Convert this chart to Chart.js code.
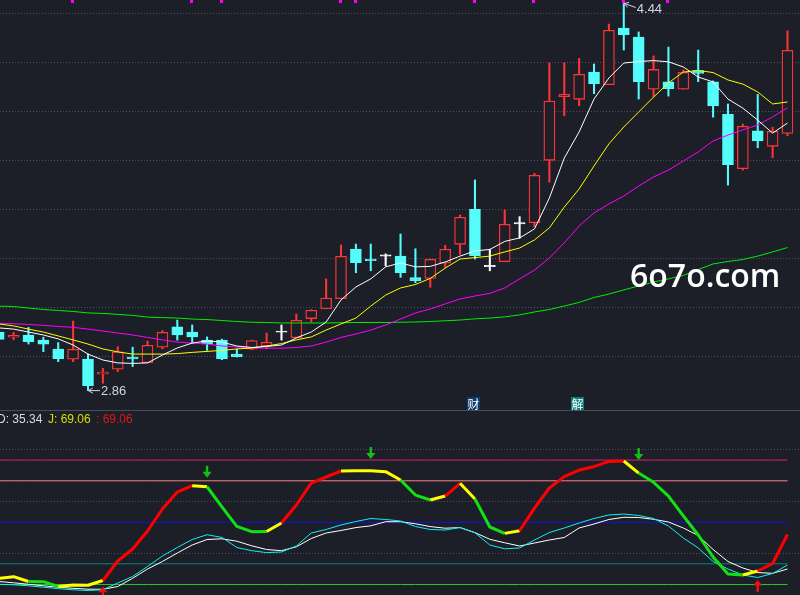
<!DOCTYPE html>
<html><head><meta charset="utf-8">
<script src="https://cdn.jsdelivr.net/npm/chart.js@4.4.1/dist/chart.umd.min.js"></script>
<style>
html,body{margin:0;padding:0;background:#1c1f28;overflow:hidden}
#wrap{position:relative;width:800px;height:595px;background:#1c1f28;overflow:hidden}
#top{position:absolute;left:0;top:0}
#bot{position:absolute;left:0;top:411px}
.sep{position:absolute;left:0;top:410px;width:800px;height:1px;background:#474c58}
.hdr{position:absolute;top:412px;font:12px "Liberation Sans",Arial,sans-serif;line-height:14px;white-space:pre}
.wm{position:absolute;left:630px;top:259px;font:600 32px "Open Sans",sans-serif;line-height:32px;color:#fff}
.badge{position:absolute;top:397px;width:13px;height:13px;font:12px "Noto Sans CJK SC",sans-serif;line-height:13px;color:#fff;text-align:center}
</style></head><body>
<div id="wrap">
<canvas id="top" width="800" height="410"></canvas>
<div class="sep"></div>
<canvas id="bot" width="800" height="184"></canvas>
<div class="wm">6o7o.com</div>
<div class="badge" style="left:467px;background:#0b3a6c">财</div>
<div class="badge" style="left:571px;background:#0e7c7c">解</div>
<div class="hdr" style="left:-3px;color:#d2dcea">D: 35.34</div>
<div class="hdr" style="left:48px;color:#dede00">J: 69.06</div>
<div class="hdr" style="left:96px;color:#e81414">: 69.06</div>
</div>
<script>
// ---- data ----
const open  = [3.099,3.078,3.087,3.066,3.029,2.988,2.989,2.927,2.947,2.997, 2.974,3.037,3.120,3.099,3.066,3.066,3.009,3.029,3.042,3.098, 3.076,3.154,3.194,3.235,3.438,3.397,3.409,3.409,3.321,3.318, 3.380,3.457,3.600,3.366,3.386,3.540,3.545,3.800,4.060,4.049, 4.160,4.109,4.340,4.303,4.090,4.120,4.090,4.166,4.120,3.988, 3.766,3.920,3.857,3.910];
const high  = [3.105,3.098,3.118,3.078,3.056,3.144,3.009,2.951,3.039,3.037, 3.062,3.105,3.148,3.128,3.079,3.070,3.029,3.066,3.095,3.128, 3.173,3.190,3.316,3.454,3.458,3.458,3.418,3.499,3.439,3.397, 3.453,3.577,3.720,3.437,3.597,3.570,3.747,4.198,4.198,4.216, 4.193,4.356,4.440,4.324,4.226,4.262,4.169,4.250,4.124,4.030, 3.948,4.069,3.935,4.328];
const low   = [3.065,3.068,3.050,3.019,2.978,2.978,2.860,2.890,2.937,2.958, 2.974,3.030,3.066,3.053,3.024,2.986,2.997,3.027,3.031,3.066, 3.076,3.140,3.194,3.235,3.341,3.349,3.369,3.322,3.300,3.282, 3.363,3.416,3.397,3.349,3.386,3.482,3.529,3.711,3.982,4.023, 4.072,4.109,4.250,4.050,4.060,4.062,4.090,4.121,3.976,3.699, 3.760,3.851,3.811,3.900];
const close = [3.069,3.086,3.060,3.049,2.990,3.029,2.880,2.936,3.018,2.989, 3.045,3.098,3.087,3.079,3.051,2.989,2.998,3.064,3.057,3.098, 3.147,3.188,3.238,3.408,3.382,3.390,3.409,3.341,3.309,3.396, 3.437,3.567,3.411,3.366,3.539,3.540,3.739,4.042,4.069,4.151, 4.113,4.331,4.313,4.121,4.171,4.092,4.159,4.155,4.022,3.782, 3.939,3.879,3.918,4.249];
const ma5   = [3.116,3.111,3.099,3.087,3.071,3.046,3.009,2.985,2.973,2.971, 2.973,3.005,3.034,3.054,3.063,3.058,3.042,3.036,3.040,3.046, 3.075,3.099,3.140,3.230,3.283,3.316,3.365,3.381,3.365,3.367, 3.385,3.409,3.430,3.436,3.469,3.483,3.520,3.646,3.809,3.916, 4.050,4.136,4.197,4.203,4.207,4.202,4.181,4.140,4.120,4.050, 4.013,3.964,3.911,3.952];
const ma10  = [3.132,3.124,3.111,3.099,3.083,3.067,3.050,3.030,3.018,3.009, 3.009,3.009,3.011,3.016,3.020,3.024,3.030,3.034,3.042,3.052, 3.067,3.079,3.107,3.132,3.156,3.205,3.250,3.279,3.293,3.318, 3.360,3.397,3.403,3.409,3.426,3.442,3.475,3.524,3.609,3.683, 3.777,3.867,3.936,3.997,4.058,4.116,4.160,4.167,4.158,4.128, 4.111,4.079,4.030,4.038];
const ma20  = [3.135,3.133,3.130,3.126,3.122,3.118,3.111,3.103,3.095,3.087, 3.077,3.067,3.058,3.054,3.050,3.042,3.038,3.034,3.033,3.033, 3.036,3.042,3.058,3.077,3.091,3.107,3.128,3.152,3.177,3.193, 3.214,3.234,3.246,3.257,3.279,3.316,3.352,3.401,3.463,3.532, 3.585,3.622,3.654,3.695,3.732,3.760,3.797,3.834,3.879,3.903, 3.924,3.944,3.977,4.014];
const ma60  = [3.205,3.203,3.197,3.191,3.187,3.183,3.177,3.175,3.171,3.167, 3.160,3.158,3.156,3.152,3.150,3.146,3.142,3.139,3.138,3.136, 3.136,3.136,3.136,3.137,3.138,3.138,3.138,3.139,3.140,3.142, 3.145,3.148,3.153,3.156,3.161,3.169,3.181,3.191,3.205,3.220, 3.240,3.254,3.271,3.287,3.303,3.316,3.330,3.354,3.377,3.387, 3.395,3.409,3.426,3.444];
const kLine = [5.17,4.81,4.09,3.07,2.06,1.19,0.69,1.19,6.11,10.81, 18.04,25.63,31.78,37.56,41.03,39.01,31.78,29.47,28.09,28.53, 32.86,42.26,44.79,48.05,50.58,52.75,52.02,50.94,46.96,44.79, 44.43,46.24,42.41,33.59,30.84,31.42,37.20,42.62,45.88,49.49, 52.75,55.28,56.00,54.92,52.75,47.32,38.65,31.42,21.66,16.23, 11.89,10.09,12.98,19.13];
const dLine = [7.20,6.26,5.17,4.09,3.07,2.28,1.63,1.56,3.58,9.51, 16.23,21.66,27.80,33.59,37.56,38.07,36.33,33.01,30.33,29.47, 32.28,38.29,42.26,44.07,46.17,47.47,50.43,50.43,48.92,46.89, 45.73,46.17,42.55,37.71,35.18,32.86,35.03,37.20,39.01,45.88, 48.77,52.02,53.62,53.47,52.17,50.22,45.88,40.46,30.33,21.66, 16.96,13.63,13.12,16.23];
const jLine = [9.36,10.67,7.2,7.05,3.58,4.66,4.52,7.92,22.02,30.7, 43.7,59.6,71.9,76.5,75.7,61.1,47.0,43.2,43.35,49.5, 62.5,78.4,82.75,87.1,87.3,87.3,86.6,80.6,69.7,66.1, 69.0,78.2,66.85,46.6,42.0,43.9,60.3,74.8,83.0,87.8, 90.2,94.0,94.3,85.6,78.9,69.0,54.6,40.8,24.9,12.6, 11.9,14.8,20.2,41.2];
// trend state of each J segment: u = up, d = down, f = flat/turning
const jTrend = ['f','f','d','d','f','f','f','u','u','u', 'u','u','u','f','d','d','d','d','f','u', 'u','u','u','f','f','f','f','d','d','f', 'u','f','d','d','f','u','u','u','u','u', 'u','u','f','d','d','d','d','d','d','d', 'f','u','u'];
const kdjLevels = [95, 80, 50, 20, 5];
const priceGrid = [3.0, 3.2, 3.4, 3.6, 3.8, 4.0, 4.2, 4.4];
const kdjGrid = [103.0, 65.4, 27.8];
const markerIdx = [5, 13, 15, 23, 24, 32, 36, 42, 45];
const sigDownIdx = [14, 25, 43];
const sigDownVal = [82.2, 95.8, 95.0];
const sigUpIdx = [7, 51];
const sigUpVal = [3.4, 8.3];

// ---- styles ----
const BG = '#1c1f28', RED = '#ff3434', CYAN = '#54fcfc', WHITE = '#ffffff';
const trendColor = {u:'#ff0000', d:'#14e014', f:'#ffff00'};
const levelColors = ['#dc1e6e', '#ff8282', '#1212e0', '#0a8282', '#28c828'];
const dir = close.map((c, i) => c > open[i] ? 1 : (c < open[i] ? -1 : 0));
const cColor = i => dir[i] > 0 ? RED : (dir[i] < 0 ? CYAN : WHITE);
const pts = arr => arr.map((y, i) => ({x: i, y}));
const xScale = () => ({type: 'linear', min: 0.087, max: 53.84, display: false, offset: false, grid: {offset: false}});

function arrowLine(ctx, fx, fy, tx, ty) {
  ctx.beginPath(); ctx.moveTo(fx, fy); ctx.lineTo(tx, ty); ctx.stroke();
  const a = Math.atan2(ty - fy, tx - fx), L = 5;
  ctx.beginPath();
  ctx.moveTo(tx + L * Math.cos(a + Math.PI - 0.55), ty + L * Math.sin(a + Math.PI - 0.55));
  ctx.lineTo(tx, ty);
  ctx.lineTo(tx + L * Math.cos(a + Math.PI + 0.55), ty + L * Math.sin(a + Math.PI + 0.55));
  ctx.stroke();
}

const topDeco = {
  id: 'topDeco',
  afterDatasetsDraw(chart) {
    const {ctx, chartArea, scales: {x, y}} = chart;
    ctx.save();
    ctx.fillStyle = '#ff00ff';
    markerIdx.forEach(i => {
      const px = Math.round(x.getPixelForValue(i));
      ctx.fillRect(px - 2, chartArea.top, 3, 3);
    });
    const hi = Math.max(...high), hiI = high.indexOf(hi);
    const lo = Math.min(...low), loI = low.indexOf(lo);
    ctx.strokeStyle = '#cdd6e6'; ctx.fillStyle = '#cdd6e6'; ctx.lineWidth = 1;
    ctx.font = '13px "Liberation Sans", Arial, sans-serif';
    ctx.textBaseline = 'middle';
    const hx = x.getPixelForValue(hiI), hy = y.getPixelForValue(hi);
    arrowLine(ctx, hx + 12, hy + 4, hx + 0.5, hy);
    ctx.fillText(hi.toFixed(2), hx + 13, hy + 6);
    const lx = x.getPixelForValue(loI), ly = y.getPixelForValue(lo);
    arrowLine(ctx, lx + 12, ly, lx + 0.5, ly);
    ctx.fillText(lo.toFixed(2), lx + 13, ly + 1);
    ctx.restore();
  }
};

const botDeco = {
  id: 'botDeco',
  afterDatasetsDraw(chart) {
    const {ctx, scales: {x, y}} = chart;
    ctx.save();
    ctx.fillStyle = '#12c012';
    sigDownIdx.forEach((i, k) => {
      const px = x.getPixelForValue(i), py = y.getPixelForValue(sigDownVal[k]);
      ctx.fillRect(px - 1.2, py - 12, 2.4, 7);
      ctx.beginPath(); ctx.moveTo(px - 4.6, py - 6); ctx.lineTo(px + 4.6, py - 6); ctx.lineTo(px, py); ctx.closePath(); ctx.fill();
    });
    ctx.fillStyle = '#f01010';
    sigUpIdx.forEach((i, k) => {
      const px = x.getPixelForValue(i), py = y.getPixelForValue(sigUpVal[k]);
      ctx.fillRect(px - 1.2, py + 5, 2.4, 7);
      ctx.beginPath(); ctx.moveTo(px - 4.6, py + 5.5); ctx.lineTo(px + 4.6, py + 5.5); ctx.lineTo(px, py); ctx.closePath(); ctx.fill();
    });
    ctx.restore();
  }
};

const common = {
  responsive: false, animation: false, events: [],
  layout: {padding: 0},
  plugins: {legend: {display: false}, tooltip: {enabled: false}}
};
const lineDs = (data, color, w, order) => ({type: 'line', data: pts(data), borderColor: color, borderWidth: w, pointRadius: 0, tension: 0, order});

new Chart(document.getElementById('top'), {
  data: {
    datasets: [
      lineDs(ma5, '#ffffff', 1, 0),
      lineDs(ma10, '#ffff00', 1, 0),
      lineDs(ma20, '#ff00ff', 1, 0),
      lineDs(ma60, '#00ee00', 1, 0),
      {type: 'bar', data: open.map((o, i) => ({x: i, y: [o, close[i]]})),
       backgroundColor: open.map((o, i) => dir[i] > 0 ? BG : cColor(i)),
       borderColor: open.map((o, i) => cColor(i)), borderWidth: 1.3, borderSkipped: false,
       barThickness: 11, maxBarThickness: 11, minBarLength: 1.3, grouped: false, order: 1},
      {type: 'bar', data: low.map((l, i) => ({x: i, y: [l, high[i]]})),
       backgroundColor: low.map((l, i) => cColor(i)), borderWidth: 0,
       barThickness: 1.4, maxBarThickness: 1.4, grouped: false, order: 2}
    ]
  },
  options: Object.assign({}, common, {
    scales: {
      x: xScale(),
      y: {min: 2.7808, max: 4.4543, ticks: {display: false},
          grid: {color: '#4d525e', drawTicks: false, lineWidth: 1},
          border: {display: false, dash: [1, 2]},
          afterBuildTicks: s => { s.ticks = priceGrid.map(v => ({value: v})); }}
    }
  }),
  plugins: [topDeco]
});

new Chart(document.getElementById('bot'), {
  data: {
    datasets: [
      {type: 'line', data: pts(jLine), borderColor: '#ff0000', borderWidth: 3, pointRadius: 0, tension: 0,
       borderJoinStyle: 'round', order: 0,
       segment: {borderColor: c => trendColor[jTrend[c.p0DataIndex]]}},
      lineDs(kLine, '#10f0f0', 1, 1),
      lineDs(dLine, '#ffffff', 1, 2),
      ...kdjLevels.map((lv, k) => lineDs(jLine.map(() => lv), levelColors[k], 1, 3))
    ]
  },
  options: Object.assign({}, common, {
    scales: {
      x: xScale(),
      y: {min: -2.57, max: 130.48, ticks: {display: false},
          grid: {color: '#4d525e', drawTicks: false, lineWidth: 1},
          border: {display: false, dash: [1, 2]},
          afterBuildTicks: s => { s.ticks = kdjGrid.map(v => ({value: v})); }}
    }
  }),
  plugins: [botDeco]
});
</script>
</body></html>
